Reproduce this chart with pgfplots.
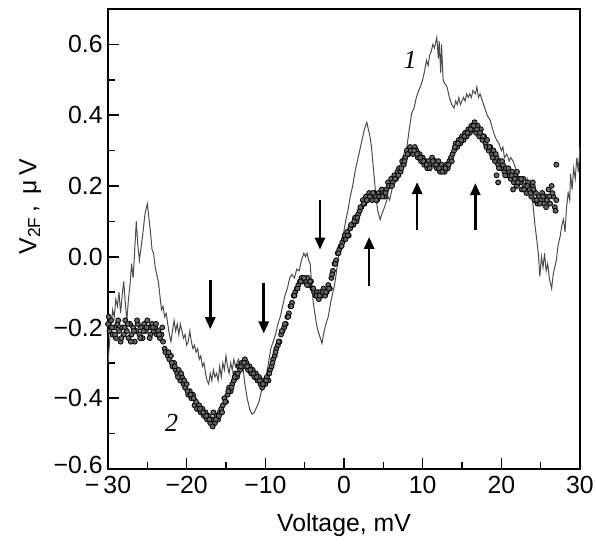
\documentclass[border=0pt]{standalone}
\usepackage{fontspec}
\setmainfont{Liberation Sans}
\newfontfamily\serifit{Liberation Serif}
\usepackage{pgfplots}
\pgfplotsset{compat=1.18}
\usetikzlibrary{arrows.meta}

\begin{document}
\fontsize{12.4}{14}\selectfont
\begin{tikzpicture}
\begin{axis}[
    scale only axis,
    width=236pt, height=230pt,
    xmin=-30, xmax=30, ymin=-0.6, ymax=0.7,
    xtick={-30,-20,-10,0,10,20,30},
    xticklabels={−\,30,−20,−10,0,10,20,30},
    ytick={-0.6,-0.4,-0.2,0,0.2,0.4,0.6},
    yticklabels={\raisebox{4pt}{−0.6},−0.4,−0.2,0.0,0.2,0.4,0.6},
    minor x tick num=1, minor y tick num=1,
    tick align=inside,
    xtick pos=bottom, ytick pos=left,
    major tick length=5.5pt, minor tick length=3.5pt,
    axis line style={line width=1pt},
    every tick/.style={black, line width=0.8pt},
    xticklabel style={inner xsep=0pt, inner ysep=3.5pt},
    yticklabel style={inner sep=2.5pt},
    xlabel={Voltage, mV},
    ylabel={V\textsubscript{2F}\,, \,μ\,V},
    xlabel style={at={(rel axis cs:0.5,-0.122)}, anchor=center},
    ylabel style={at={(rel axis cs:-0.165,0.57)}, anchor=center},
    clip=false,
]
% curve 1
\addplot[black!70, line width=0.5pt] coordinates {
(-30.0,-0.30)(-29.8,-0.24)(-29.6,-0.20)(-29.4,-0.15)(-29.2,-0.17)(-29.0,-0.12)(-28.8,-0.14)(-28.6,-0.10)
(-28.4,-0.16)(-28.2,-0.11)(-28.0,-0.07)(-27.8,-0.13)(-27.6,-0.18)(-27.4,-0.12)(-27.2,-0.08)(-27.0,-0.02)
(-26.8,-0.06)(-26.6,0.02)(-26.4,0.10)(-26.2,0.03)(-26.0,-0.01)(-25.6,0.06)(-25.3,0.12)(-25.0,0.15)
(-24.8,0.11)(-24.6,0.07)(-24.4,0.02)(-24.2,0.01)(-24.0,-0.03)(-23.8,-0.05)(-23.6,-0.07)(-23.4,-0.11)
(-23.2,-0.15)(-23.0,-0.14)(-22.8,-0.17)(-22.6,-0.16)(-22.4,-0.19)(-22.2,-0.22)(-22.0,-0.24)(-21.8,-0.21)
(-21.6,-0.18)(-21.4,-0.21)(-21.2,-0.19)(-21.0,-0.22)(-20.8,-0.19)(-20.6,-0.21)(-20.4,-0.23)(-20.2,-0.22)
(-20.0,-0.25)(-19.8,-0.24)(-19.6,-0.21)(-19.4,-0.24)(-19.2,-0.26)(-19.0,-0.25)(-18.8,-0.27)(-18.6,-0.26)
(-18.4,-0.29)(-18.2,-0.28)(-18.0,-0.31)(-17.8,-0.30)(-17.6,-0.33)(-17.4,-0.35)(-17.2,-0.36)(-17.0,-0.33)
(-16.8,-0.35)(-16.6,-0.32)(-16.4,-0.34)(-16.2,-0.33)(-16.0,-0.35)(-15.8,-0.31)(-15.6,-0.34)(-15.4,-0.30)
(-15.2,-0.32)(-15.0,-0.28)(-14.8,-0.31)(-14.6,-0.33)(-14.4,-0.30)(-14.2,-0.32)(-14.0,-0.29)(-13.8,-0.31)
(-13.6,-0.30)(-13.4,-0.29)(-13.2,-0.32)(-13.0,-0.31)(-12.8,-0.32)(-12.6,-0.36)(-12.3,-0.40)(-12.0,-0.43)
(-11.7,-0.445)(-11.4,-0.44)(-11.1,-0.425)(-10.8,-0.41)(-10.5,-0.38)(-10.2,-0.35)(-9.9,-0.34)(-9.6,-0.30)
(-9.3,-0.26)(-9.0,-0.24)(-8.7,-0.22)(-8.4,-0.19)(-8.1,-0.17)(-7.8,-0.14)(-7.5,-0.11)(-7.2,-0.09)
(-6.9,-0.06)(-6.6,-0.05)(-6.3,-0.06)(-6.0,-0.035)(-5.7,-0.04)(-5.4,-0.01)(-5.1,0.01)(-4.9,0.0)
(-4.7,0.01)(-4.5,-0.01)(-4.3,-0.02)(-4.1,-0.08)(-3.9,-0.13)(-3.7,-0.16)(-3.5,-0.19)(-3.3,-0.21)
(-3.0,-0.23)(-2.8,-0.245)(-2.6,-0.22)(-2.3,-0.19)(-2.0,-0.17)(-1.7,-0.13)(-1.4,-0.10)(-1.2,-0.08)
(-1.0,-0.05)(-0.7,0.0)(-0.4,0.04)(-0.1,0.06)(0.2,0.10)(0.5,0.13)(0.8,0.17)(1.1,0.20)
(1.4,0.24)(1.7,0.27)(2.0,0.30)(2.3,0.33)(2.6,0.36)(2.9,0.38)(3.1,0.36)(3.3,0.34)
(3.5,0.31)(3.7,0.26)(3.9,0.21)(4.1,0.16)(4.3,0.13)(4.6,0.105)(4.8,0.12)(5.0,0.13)
(5.3,0.15)(5.6,0.17)(5.8,0.16)(6.1,0.19)(6.4,0.21)(6.7,0.23)(7.0,0.25)(7.3,0.27)
(7.6,0.29)(8.0,0.31)(8.3,0.36)(8.6,0.405)(8.9,0.42)(9.2,0.45)(9.5,0.47)(9.7,0.48)
(10.0,0.50)(10.2,0.52)(10.5,0.555)(10.7,0.54)(10.9,0.57)(11.1,0.58)(11.3,0.60)(11.5,0.59)
(11.8,0.62)(12.0,0.56)(12.1,0.61)(12.3,0.52)(12.4,0.60)(12.6,0.50)(12.8,0.49)(13.1,0.48)
(13.4,0.45)(13.7,0.43)(14.0,0.42)(14.2,0.44)(14.4,0.43)(14.6,0.45)(14.8,0.43)(15.0,0.44)
(15.2,0.45)(15.4,0.44)(15.6,0.46)(15.8,0.45)(16.0,0.46)(16.2,0.45)(16.4,0.47)(16.7,0.46)
(16.9,0.48)(17.1,0.45)(17.3,0.46)(17.6,0.44)(17.9,0.42)(18.2,0.40)(18.6,0.385)(18.9,0.36)
(19.2,0.34)(19.4,0.33)(19.7,0.32)(20.0,0.30)(20.2,0.31)(20.4,0.28)(20.7,0.29)(21.0,0.27)
(21.2,0.28)(21.5,0.27)(21.8,0.25)(22.1,0.23)(22.4,0.21)(22.7,0.22)(23.0,0.20)(23.3,0.22)
(23.6,0.19)(23.9,0.18)(24.1,0.13)(24.3,0.085)(24.5,0.05)(24.7,0.01)(24.9,-0.056)(25.1,0.0)
(25.3,-0.03)(25.5,0.01)(25.7,-0.04)(25.9,-0.02)(26.1,-0.06)(26.4,-0.09)(26.6,-0.05)(26.8,-0.03)
(27.0,-0.01)(27.2,0.03)(27.5,0.06)(27.7,0.09)(27.9,0.105)(28.1,0.07)(28.3,0.14)(28.5,0.18)
(28.7,0.16)(28.8,0.235)(29.0,0.19)(29.2,0.25)(29.4,0.22)(29.6,0.28)(29.8,0.24)(30.0,0.31)
};
% curve 2
\addplot[only marks, mark=*, mark size=1.25pt,
    mark options={fill=black!60, draw=black, line width=0.4pt}] coordinates {
(-30.0,-0.19)(-29.8,-0.21)(-29.6,-0.18)(-29.4,-0.22)(-29.2,-0.20)(-29.0,-0.23)(-28.8,-0.19)(-28.6,-0.21)
(-28.4,-0.24)(-28.2,-0.20)(-28.0,-0.22)(-27.8,-0.18)(-27.6,-0.21)(-27.4,-0.23)(-27.2,-0.19)(-27.0,-0.22)
(-26.8,-0.20)(-26.6,-0.24)(-26.4,-0.21)(-26.2,-0.19)(-26.0,-0.22)(-25.8,-0.20)(-25.6,-0.23)(-25.4,-0.19)
(-25.2,-0.21)(-25.0,-0.18)(-24.8,-0.20)(-24.6,-0.22)(-24.4,-0.19)(-24.2,-0.21)(-24.0,-0.20)(-23.8,-0.22)
(-23.6,-0.21)(-23.4,-0.23)(-23.2,-0.22)(-23.0,-0.24)(-22.8,-0.26)(-22.6,-0.27)(-22.4,-0.28)(-22.2,-0.29)
(-22.0,-0.28)(-21.8,-0.31)(-21.6,-0.30)(-21.4,-0.32)(-21.2,-0.33)(-21.0,-0.32)(-20.8,-0.35)(-20.6,-0.34)
(-20.4,-0.36)(-20.2,-0.37)(-20.0,-0.36)(-19.8,-0.39)(-19.6,-0.38)(-19.4,-0.40)(-19.2,-0.39)(-19.0,-0.42)
(-18.8,-0.41)(-18.6,-0.43)(-18.4,-0.42)(-18.2,-0.44)(-18.0,-0.43)(-17.8,-0.45)(-17.6,-0.44)(-17.4,-0.46)
(-17.2,-0.45)(-17.0,-0.47)(-16.8,-0.46)(-16.6,-0.44)(-16.4,-0.47)(-16.2,-0.45)(-16.0,-0.46)(-15.8,-0.44)
(-15.6,-0.43)(-15.4,-0.42)(-15.2,-0.40)(-15.0,-0.41)(-14.8,-0.39)(-14.6,-0.37)(-14.4,-0.38)(-14.2,-0.36)
(-14.0,-0.35)(-13.8,-0.33)(-13.6,-0.34)(-13.4,-0.31)(-13.2,-0.32)(-13.0,-0.30)(-12.8,-0.31)(-12.6,-0.29)
(-12.4,-0.30)(-12.2,-0.32)(-12.0,-0.31)(-11.8,-0.33)(-11.6,-0.32)(-11.4,-0.34)(-11.2,-0.33)(-11.0,-0.35)
(-10.8,-0.34)(-10.6,-0.36)(-10.4,-0.37)(-10.2,-0.35)(-10.0,-0.36)(-9.8,-0.34)(-9.6,-0.35)(-9.4,-0.32)
(-9.2,-0.31)(-9.0,-0.29)(-8.8,-0.28)(-8.6,-0.26)(-8.4,-0.25)(-8.2,-0.24)(-8.0,-0.22)(-7.8,-0.21)
(-7.6,-0.20)(-7.4,-0.19)(-7.2,-0.17)(-7.0,-0.16)(-6.8,-0.14)(-6.6,-0.13)(-6.4,-0.11)(-6.2,-0.10)
(-6.0,-0.09)(-5.8,-0.08)(-5.6,-0.07)(-5.4,-0.06)(-5.2,-0.07)(-5.0,-0.06)(-4.8,-0.07)(-4.6,-0.06)
(-4.4,-0.08)(-4.2,-0.07)(-4.0,-0.09)(-3.8,-0.10)(-3.6,-0.11)(-3.4,-0.10)(-3.2,-0.12)(-3.0,-0.10)
(-2.8,-0.11)(-2.6,-0.09)(-2.4,-0.11)(-2.2,-0.10)(-2.0,-0.08)(-1.8,-0.09)(-1.6,-0.06)(-1.4,-0.04)
(-1.2,-0.02)(-1.0,-0.01)(-0.8,0.01)(-0.6,0.02)(-0.4,0.03)(-0.2,0.04)(0.0,0.05)(0.2,0.05)
(0.4,0.07)(0.6,0.06)(0.8,0.08)(1.0,0.09)(1.2,0.09)(1.4,0.11)(1.6,0.10)(1.8,0.12)
(2.0,0.13)(2.2,0.14)(2.4,0.16)(2.6,0.15)(2.8,0.17)(3.0,0.16)(3.2,0.18)(3.4,0.17)
(3.6,0.16)(3.8,0.18)(4.0,0.17)(4.2,0.16)(4.4,0.18)(4.6,0.17)(4.8,0.19)(5.0,0.18)
(5.2,0.17)(5.4,0.19)(5.6,0.21)(5.8,0.20)(6.0,0.22)(6.2,0.21)(6.4,0.23)(6.6,0.22)
(6.8,0.24)(7.0,0.25)(7.2,0.24)(7.4,0.27)(7.6,0.26)(7.8,0.28)(8.0,0.30)(8.2,0.29)
(8.4,0.31)(8.6,0.30)(8.8,0.29)(9.0,0.31)(9.2,0.30)(9.4,0.28)(9.6,0.29)(9.8,0.27)
(10.0,0.28)(10.2,0.26)(10.4,0.27)(10.6,0.25)(10.8,0.27)(11.0,0.26)(11.2,0.28)(11.4,0.26)
(11.6,0.27)(11.8,0.25)(12.0,0.27)(12.2,0.24)(12.4,0.26)(12.6,0.25)(12.8,0.24)(13.0,0.26)
(13.2,0.25)(13.4,0.27)(13.6,0.28)(13.8,0.29)(14.0,0.30)(14.2,0.32)(14.4,0.31)(14.6,0.33)
(14.8,0.32)(15.0,0.34)(15.2,0.33)(15.4,0.35)(15.6,0.34)(15.8,0.36)(16.0,0.35)(16.2,0.37)
(16.4,0.36)(16.6,0.38)(16.8,0.35)(17.0,0.37)(17.2,0.34)(17.4,0.36)(17.6,0.33)(17.8,0.34)
(18.0,0.32)(18.2,0.33)(18.4,0.30)(18.6,0.31)(18.8,0.29)(19.0,0.30)(19.2,0.27)(19.4,0.28)
(19.6,0.26)(19.8,0.27)(20.0,0.25)(20.2,0.26)(20.4,0.24)(20.6,0.25)(20.8,0.23)(21.0,0.24)
(21.2,0.22)(21.4,0.24)(21.6,0.21)(21.8,0.23)(22.0,0.20)(22.2,0.22)(22.4,0.21)(22.6,0.19)
(22.8,0.22)(23.0,0.20)(23.2,0.18)(23.4,0.21)(23.6,0.19)(23.8,0.17)(24.0,0.20)(24.2,0.16)
(24.4,0.18)(24.6,0.15)(24.8,0.17)(25.0,0.16)(25.2,0.18)(25.4,0.15)(25.6,0.17)(25.8,0.16)
(26.0,0.19)(26.2,0.15)(26.4,0.20)(26.6,0.17)(26.8,0.14)(27.0,0.16)
(19.4,0.23)(19.6,0.21)(21.5,0.19)(27.0,0.26)(22.0,0.24)(24.0,0.21)
(-29.9,-0.17)(-29.5,-0.20)(-29.1,-0.22)(-28.7,-0.18)(-28.3,-0.23)(-27.9,-0.20)(-27.5,-0.19)(-27.1,-0.24)
(-26.7,-0.21)(-26.3,-0.18)(-25.9,-0.23)(-25.5,-0.21)(-25.1,-0.20)(-24.7,-0.23)(-24.3,-0.20)(-23.9,-0.19)
(-23.5,-0.22)(-23.1,-0.20)(-22.7,-0.27)(-22.3,-0.27)(-21.9,-0.30)(-21.5,-0.31)(-21.1,-0.34)(-20.7,-0.33)
(-20.3,-0.35)(-19.9,-0.38)(-19.5,-0.39)(-19.1,-0.40)(-18.7,-0.43)(-18.3,-0.43)(-17.9,-0.44)(-17.5,-0.45)
(-17.1,-0.46)(-16.7,-0.48)(-16.3,-0.46)(-15.9,-0.45)(-15.5,-0.44)(-15.1,-0.41)(-14.7,-0.38)(-14.3,-0.37)
(-13.9,-0.34)(-13.5,-0.33)(-13.1,-0.31)(-12.7,-0.30)(-12.3,-0.31)(-11.9,-0.32)(-11.5,-0.33)(-11.1,-0.34)
(-10.7,-0.35)(-10.3,-0.36)(-9.9,-0.35)(-9.5,-0.33)(-9.1,-0.30)(-8.7,-0.27)(-8.3,-0.24)(-7.9,-0.21)
(-7.5,-0.19)(-7.1,-0.17)(-6.7,-0.14)(-6.3,-0.11)(-5.9,-0.09)(-5.5,-0.07)(-5.1,-0.06)(-4.7,-0.08)
(-4.3,-0.07)(-3.9,-0.09)(-3.5,-0.11)(-3.1,-0.11)(-2.7,-0.10)(-2.3,-0.10)(-1.9,-0.09)(-1.5,-0.05)
(-1.1,-0.02)(-0.7,0.01)(-0.3,0.03)(0.1,0.06)(0.5,0.06)(0.9,0.09)(1.3,0.10)(1.7,0.11)
(2.1,0.14)(2.5,0.15)(2.9,0.16)(3.3,0.17)(3.7,0.18)(4.1,0.16)(4.5,0.17)(4.9,0.17)
(5.3,0.18)(5.7,0.20)(6.1,0.20)(6.5,0.22)(6.9,0.23)(7.3,0.25)(7.7,0.27)(8.1,0.29)
(8.5,0.30)(8.9,0.30)(9.3,0.29)(9.7,0.28)(10.1,0.27)(10.5,0.26)(10.9,0.25)(11.3,0.27)
(11.7,0.26)(12.1,0.25)(12.5,0.24)(12.9,0.25)(13.3,0.26)(13.7,0.27)(14.1,0.31)(14.5,0.32)
(14.9,0.33)(15.3,0.34)(15.7,0.35)(16.1,0.36)(16.5,0.37)(16.9,0.36)(17.3,0.35)(17.7,0.34)
(18.1,0.31)(18.5,0.31)(18.9,0.28)(19.3,0.29)(19.7,0.25)(20.1,0.27)(20.5,0.23)(20.9,0.25)
(21.3,0.23)(21.7,0.22)(22.1,0.21)(22.5,0.22)(22.9,0.19)(23.3,0.20)(23.7,0.18)(24.1,0.19)
(24.5,0.16)(24.9,0.15)(25.3,0.17)(25.7,0.14)(26.1,0.17)(26.5,0.18)(26.9,0.13)
};
% arrows
\draw[-{Triangle[length=6pt,width=5pt]}, line width=1.3pt] (axis cs:-17.0,-0.065) -- (axis cs:-17.0,-0.205);
\draw[-{Triangle[length=6pt,width=5pt]}, line width=1.3pt] (axis cs:-10.2,-0.073) -- (axis cs:-10.2,-0.217);
\draw[-{Triangle[length=6pt,width=5pt]}, line width=1.3pt] (axis cs:-3.05,0.16) -- (axis cs:-3.05,0.02);
\draw[-{Triangle[length=6pt,width=5pt]}, line width=1.3pt] (axis cs:3.2,-0.084) -- (axis cs:3.2,0.056);
\draw[-{Triangle[length=6pt,width=5pt]}, line width=1.3pt] (axis cs:9.3,0.076) -- (axis cs:9.3,0.211);
\draw[-{Triangle[length=6pt,width=5pt]}, line width=1.3pt] (axis cs:16.7,0.076) -- (axis cs:16.7,0.208);
% curve labels
\node[font=\serifit\itshape\fontsize{13}{15}\selectfont] at (axis cs:8.4,0.555) {1};
\node[font=\serifit\itshape\fontsize{13}{15}\selectfont] at (axis cs:-21.9,-0.47) {2};
% page extent
\path (rel axis cs:-0.2288,-0.1674) (rel axis cs:1.034,1.0196);
\end{axis}
\end{tikzpicture}
\end{document}
